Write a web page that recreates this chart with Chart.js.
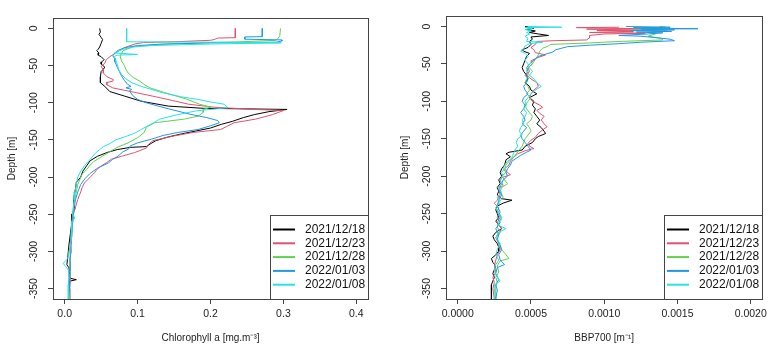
<!DOCTYPE html>
<html><head><meta charset="utf-8">
<script src="https://cdn.jsdelivr.net/npm/chart.js@4/dist/chart.umd.min.js"></script>
<style>
html,body{margin:0;padding:0;background:#fff;width:771px;height:347px;overflow:hidden}
#c1{position:absolute;left:0;top:0;width:393px;height:347px}
#c2{position:absolute;left:393px;top:0;width:378px;height:347px}
</style></head><body>
<canvas id="c1" width="393" height="347"></canvas>
<canvas id="c2" width="378" height="347"></canvas>
<script>
// ---------- categories ----------
const dates = ["2021/12/18", "2021/12/23", "2021/12/28", "2022/01/03", "2022/01/08"];
const palette = ["#000000", "#DF536B", "#61D04F", "#2297E6", "#28E2E5"];

// ---------- tick values / labels ----------
const depthTicks = [0, -50, -100, -150, -200, -250, -300, -350];
const depthTickLabels = ["0", "-50", "-100", "-150", "-200", "-250", "-300", "-350"];
const chlTicks = [0, 0.1, 0.2, 0.3, 0.4];
const chlTickLabels = ["0.0", "0.1", "0.2", "0.3", "0.4"];
const bbpTicks = [0, 0.0005, 0.001, 0.0015, 0.002];
const bbpTickLabels = ["0.0000", "0.0005", "0.0010", "0.0015", "0.0020"];

// ---------- Chlorophyll a profiles: [depth m, value mg.m-3] ----------
const chl1218 = [[0,0.048],[-5,0.049],[-8,0.047],[-12,0.050],[-15,0.052],[-20,0.050],[-25,0.048],[-28,0.046],[-30,0.044],[-33,0.047],[-36,0.046],[-38,0.050],[-42,0.054],[-45,0.051],[-48,0.050],[-52,0.055],[-55,0.053],[-58,0.050],[-65,0.049],[-73,0.049],[-78,0.055],[-85,0.062],[-91,0.082],[-98,0.105],[-104.5,0.142],[-107.5,0.190],[-109,0.305],[-112,0.280],[-116,0.260],[-120,0.245],[-125,0.230],[-129,0.215],[-134,0.200],[-138,0.180],[-142,0.160],[-146,0.142],[-151,0.125],[-155,0.118],[-159,0.112],[-160,0.090],[-163,0.072],[-167,0.058],[-172,0.045],[-178,0.035],[-185,0.030],[-192,0.025],[-200,0.022],[-207,0.016],[-215,0.015],[-225,0.013],[-235,0.012],[-242,0.014],[-250,0.010],[-260,0.010],[-275,0.008],[-290,0.006],[-300,0.005],[-310,0.004],[-318,0.003],[-322,0.006],[-330,0.007],[-336,0.007],[-338,0.016],[-340,0.007],[-350,0.006],[-364,0.006]];
const chl1223 = [[0,0.234],[-12.5,0.234],[-13,0.210],[-15,0.205],[-16,0.200],[-18,0.150],[-19,0.108],[-21,0.096],[-26,0.082],[-30,0.075],[-33,0.070],[-38,0.062],[-42,0.057],[-47,0.055],[-51,0.050],[-56,0.053],[-60,0.053],[-65,0.058],[-69,0.067],[-71,0.066],[-73,0.057],[-76,0.058],[-80,0.066],[-86,0.096],[-92,0.125],[-97,0.148],[-102,0.170],[-106,0.205],[-109,0.260],[-110.5,0.300],[-116,0.285],[-122,0.262],[-127,0.232],[-132,0.222],[-136,0.214],[-140,0.176],[-145,0.148],[-151,0.121],[-156,0.115],[-161,0.112],[-167,0.096],[-172,0.078],[-176,0.064],[-181,0.057],[-185,0.050],[-190,0.044],[-194,0.041],[-199,0.036],[-203,0.032],[-208,0.027],[-214,0.024],[-220,0.022],[-230,0.018],[-240,0.015],[-250,0.012],[-260,0.011],[-275,0.010],[-290,0.009],[-305,0.008],[-320,0.007],[-335,0.008],[-350,0.007],[-364,0.007]];
const chl1228 = [[0,0.296],[-10,0.295],[-14,0.292],[-16,0.290],[-18,0.240],[-19.5,0.180],[-21.5,0.126],[-24.5,0.094],[-30,0.080],[-37,0.076],[-44,0.078],[-50,0.082],[-55,0.084],[-60,0.087],[-66,0.094],[-71,0.103],[-76,0.110],[-80,0.117],[-87,0.139],[-95,0.167],[-102,0.185],[-106,0.200],[-109,0.190],[-113,0.190],[-118,0.183],[-122,0.164],[-127,0.123],[-133,0.112],[-140,0.109],[-147,0.100],[-154,0.087],[-160,0.072],[-167,0.060],[-173,0.050],[-179,0.040],[-185,0.034],[-190,0.030],[-196,0.024],[-203,0.021],[-210,0.018],[-220,0.016],[-230,0.014],[-240,0.012],[-250,0.011],[-260,0.010],[-270,0.010],[-280,0.009],[-290,0.008],[-300,0.007],[-310,0.008],[-320,0.007],[-330,0.008],[-340,0.006],[-350,0.007],[-364,0.006]];
const chl0103 = [[0,0.271],[-11,0.271],[-11.5,0.247],[-14.5,0.247],[-15.5,0.298],[-17,0.298],[-18.5,0.290],[-19.5,0.200],[-21,0.140],[-23,0.100],[-26,0.082],[-30,0.072],[-34,0.068],[-37,0.066],[-40,0.068],[-45,0.069],[-52,0.072],[-58,0.075],[-64,0.078],[-70,0.082],[-75,0.086],[-78,0.091],[-80,0.084],[-82,0.092],[-84,0.089],[-90,0.093],[-95.6,0.100],[-100,0.112],[-104.5,0.128],[-110,0.150],[-115.7,0.173],[-120,0.195],[-124,0.210],[-127,0.212],[-131,0.200],[-136,0.183],[-140,0.155],[-144,0.135],[-149,0.119],[-154,0.100],[-158,0.090],[-162,0.088],[-166,0.080],[-172,0.073],[-176,0.066],[-181,0.060],[-188,0.045],[-195,0.035],[-202,0.028],[-210,0.022],[-220,0.018],[-230,0.015],[-240,0.013],[-250,0.012],[-260,0.011],[-270,0.010],[-280,0.009],[-290,0.008],[-300,0.009],[-310,0.007],[-320,0.008],[-330,0.006],[-340,0.007],[-350,0.006],[-364,0.005]];
const chl0108 = [[0,0.085],[-18,0.085],[-18.5,0.200],[-19.5,0.297],[-21,0.200],[-23,0.120],[-25,0.095],[-28,0.080],[-31,0.072],[-33,0.068],[-35,0.100],[-36,0.072],[-38,0.068],[-42,0.070],[-48,0.072],[-55,0.074],[-62,0.078],[-68,0.084],[-73,0.092],[-78,0.105],[-82,0.119],[-86,0.132],[-89,0.146],[-92,0.160],[-95.6,0.183],[-99,0.200],[-102,0.219],[-105,0.222],[-106.7,0.224],[-108,0.210],[-111,0.180],[-116,0.155],[-122,0.130],[-127,0.122],[-132,0.112],[-136,0.105],[-141,0.096],[-145,0.085],[-150,0.070],[-155,0.062],[-159,0.053],[-163,0.048],[-168,0.042],[-176,0.035],[-185,0.027],[-192,0.022],[-200,0.018],[-210,0.016],[-220,0.014],[-230,0.013],[-240,0.012],[-250,0.011],[-255,0.014],[-260,0.010],[-270,0.010],[-280,0.009],[-290,0.008],[-300,0.006],[-310,0.004],[-316,-0.002],[-320,0.001],[-325,0.005],[-335,0.006],[-345,0.005],[-355,0.005],[-364,0.005]];

// ---------- BBP700 profiles: [depth m, value m-1] ----------
const bbp1218 = [[0,4.6e-4],[-2,5.2e-4],[-4,4.7e-4],[-6,5.3e-4],[-8,4.9e-4],[-10,5.5e-4],[-12,6.2e-4],[-14,5.0e-4],[-17,5.1e-4],[-20,4.9e-4],[-24,5.0e-4],[-28,4.8e-4],[-31,4.4e-4],[-33,4.5e-4],[-36,4.9e-4],[-40,4.7e-4],[-45,4.6e-4],[-50,4.5e-4],[-55,4.4e-4],[-60,4.5e-4],[-65,4.7e-4],[-70,4.8e-4],[-75,4.6e-4],[-80,4.9e-4],[-85,5.0e-4],[-90,5.4e-4],[-95,4.9e-4],[-100,5.2e-4],[-105,5.1e-4],[-110,5.3e-4],[-115,5.2e-4],[-120,5.4e-4],[-125,5.6e-4],[-130,5.4e-4],[-135,5.7e-4],[-140,5.9e-4],[-143,6.0e-4],[-147,5.5e-4],[-150,5.3e-4],[-155,5.1e-4],[-160,4.6e-4],[-165,4.4e-4],[-168,3.5e-4],[-170,3.3e-4],[-174,3.6e-4],[-178,3.3e-4],[-185,3.2e-4],[-190,3.0e-4],[-195,2.9e-4],[-200,3.0e-4],[-205,2.8e-4],[-210,2.9e-4],[-215,2.7e-4],[-220,2.8e-4],[-225,2.7e-4],[-230,3.0e-4],[-232,3.7e-4],[-236,3.1e-4],[-240,2.7e-4],[-245,2.6e-4],[-250,2.7e-4],[-255,2.8e-4],[-260,2.6e-4],[-265,2.8e-4],[-270,3.0e-4],[-275,2.6e-4],[-280,2.4e-4],[-285,2.5e-4],[-290,2.7e-4],[-295,2.8e-4],[-300,2.8e-4],[-305,2.6e-4],[-310,2.3e-4],[-315,2.4e-4],[-320,2.6e-4],[-325,2.5e-4],[-330,2.4e-4],[-335,2.5e-4],[-340,2.4e-4],[-345,2.3e-4],[-350,2.3e-4],[-364,2.3e-4]];
const bbp1223 = [[-1,11.0e-4],[-1.5,8.1e-4],[-3,12.5e-4],[-3.5,8.8e-4],[-5,13.0e-4],[-5.5,9.5e-4],[-7,12.0e-4],[-8,9.0e-4],[-9,12.8e-4],[-10,10.0e-4],[-12,9.0e-4],[-15,9.0e-4],[-18,8.8e-4],[-19,6.5e-4],[-20,5.4e-4],[-24,5.3e-4],[-28,5.0e-4],[-31,5.2e-4],[-35,5.3e-4],[-38,6.0e-4],[-42,5.4e-4],[-46,5.0e-4],[-50,5.1e-4],[-55,4.8e-4],[-60,4.9e-4],[-65,4.7e-4],[-70,5.0e-4],[-75,5.4e-4],[-80,5.5e-4],[-85,5.2e-4],[-90,5.0e-4],[-95,4.9e-4],[-100,5.1e-4],[-105,5.6e-4],[-108,5.8e-4],[-112,5.4e-4],[-116,5.6e-4],[-120,5.9e-4],[-125,5.7e-4],[-130,5.9e-4],[-134,6.1e-4],[-138,5.8e-4],[-143,5.5e-4],[-148,5.3e-4],[-152,5.0e-4],[-156,4.8e-4],[-160,4.9e-4],[-163,5.2e-4],[-166,4.6e-4],[-170,4.1e-4],[-175,3.8e-4],[-180,3.6e-4],[-185,3.5e-4],[-190,3.2e-4],[-195,3.4e-4],[-198,3.6e-4],[-202,3.0e-4],[-206,2.9e-4],[-212,3.1e-4],[-218,2.8e-4],[-225,2.9e-4],[-232,2.7e-4],[-236,2.5e-4],[-242,2.8e-4],[-248,2.7e-4],[-255,2.9e-4],[-262,2.7e-4],[-270,3.0e-4],[-276,2.8e-4],[-282,2.6e-4],[-290,2.8e-4],[-298,2.9e-4],[-305,2.7e-4],[-312,2.6e-4],[-320,2.5e-4],[-328,2.6e-4],[-335,2.4e-4],[-342,2.5e-4],[-350,2.4e-4],[-364,2.5e-4]];
const bbp1228 = [[0,13.8e-4],[-1,14.2e-4],[-2,12.0e-4],[-3,14.0e-4],[-5,12.5e-4],[-6,14.3e-4],[-8,13.0e-4],[-10,13.5e-4],[-13,13.0e-4],[-16,13.9e-4],[-18,14.0e-4],[-20,11.0e-4],[-22,9.0e-4],[-24,6.3e-4],[-26,6.2e-4],[-29,5.8e-4],[-33,5.6e-4],[-38,5.5e-4],[-44,5.3e-4],[-50,5.1e-4],[-55,4.8e-4],[-60,4.7e-4],[-65,4.9e-4],[-70,4.7e-4],[-75,4.6e-4],[-80,4.8e-4],[-85,4.9e-4],[-90,4.7e-4],[-95,5.0e-4],[-100,4.8e-4],[-105,4.6e-4],[-110,4.7e-4],[-115,4.9e-4],[-120,5.1e-4],[-125,5.0e-4],[-130,4.7e-4],[-135,4.9e-4],[-140,5.0e-4],[-145,4.8e-4],[-150,4.6e-4],[-155,4.5e-4],[-160,4.4e-4],[-165,4.2e-4],[-170,4.0e-4],[-175,3.8e-4],[-180,3.4e-4],[-185,3.2e-4],[-190,3.1e-4],[-195,3.3e-4],[-200,3.0e-4],[-205,3.2e-4],[-210,3.4e-4],[-215,3.0e-4],[-220,2.9e-4],[-228,3.1e-4],[-235,2.8e-4],[-242,2.6e-4],[-248,2.8e-4],[-255,3.0e-4],[-262,2.8e-4],[-268,2.7e-4],[-275,2.9e-4],[-282,2.7e-4],[-290,2.8e-4],[-298,3.0e-4],[-305,3.3e-4],[-310,3.5e-4],[-313,2.9e-4],[-320,2.7e-4],[-328,2.8e-4],[-335,2.6e-4],[-342,2.7e-4],[-350,2.5e-4],[-364,2.6e-4]];
const bbp0103 = [[0,11.5e-4],[-1,14.5e-4],[-2,12.0e-4],[-3,16.4e-4],[-3.5,12.5e-4],[-4.5,14.8e-4],[-5.5,11.8e-4],[-6.5,14.6e-4],[-7.5,12.2e-4],[-8.5,14.0e-4],[-10,13.0e-4],[-12,11.0e-4],[-13,12.5e-4],[-15,13.6e-4],[-17,14.5e-4],[-19,14.8e-4],[-21,12.5e-4],[-23,11.0e-4],[-25,9.0e-4],[-27,7.5e-4],[-29,7.1e-4],[-31,6.7e-4],[-34,6.5e-4],[-37,6.0e-4],[-40,5.5e-4],[-45,5.2e-4],[-50,4.9e-4],[-55,4.7e-4],[-60,4.8e-4],[-65,4.6e-4],[-70,4.8e-4],[-75,4.7e-4],[-80,4.5e-4],[-85,4.6e-4],[-90,4.8e-4],[-95,4.5e-4],[-100,4.4e-4],[-105,4.6e-4],[-110,4.5e-4],[-115,4.3e-4],[-120,4.5e-4],[-125,4.6e-4],[-130,4.4e-4],[-135,4.7e-4],[-140,4.5e-4],[-145,4.3e-4],[-150,4.4e-4],[-155,4.6e-4],[-160,4.8e-4],[-165,5.0e-4],[-168,4.7e-4],[-172,4.3e-4],[-176,4.0e-4],[-180,3.7e-4],[-185,3.6e-4],[-190,3.4e-4],[-195,3.3e-4],[-200,3.4e-4],[-205,3.1e-4],[-210,3.0e-4],[-218,2.8e-4],[-225,3.0e-4],[-232,2.8e-4],[-240,2.7e-4],[-248,2.9e-4],[-255,2.7e-4],[-262,2.9e-4],[-270,2.6e-4],[-278,2.8e-4],[-285,2.7e-4],[-292,2.9e-4],[-298,3.0e-4],[-305,2.8e-4],[-312,2.9e-4],[-318,3.2e-4],[-322,2.7e-4],[-330,2.6e-4],[-338,2.8e-4],[-345,2.6e-4],[-352,2.7e-4],[-364,2.6e-4]];
const bbp0108 = [[0,4.8e-4],[-1,7.1e-4],[-1.5,4.6e-4],[-3,5.1e-4],[-4,4.6e-4],[-6,5.0e-4],[-8,4.7e-4],[-10,4.9e-4],[-13,4.6e-4],[-16,4.8e-4],[-20,4.7e-4],[-21,5.8e-4],[-23,4.9e-4],[-26,4.6e-4],[-30,4.5e-4],[-33,4.3e-4],[-36,4.6e-4],[-40,4.8e-4],[-45,4.6e-4],[-50,4.8e-4],[-55,4.9e-4],[-60,5.1e-4],[-65,4.9e-4],[-70,5.2e-4],[-75,5.4e-4],[-80,5.7e-4],[-85,5.3e-4],[-90,5.0e-4],[-95,4.8e-4],[-100,4.6e-4],[-105,4.7e-4],[-110,4.5e-4],[-115,4.7e-4],[-120,4.6e-4],[-125,4.4e-4],[-130,4.5e-4],[-135,4.3e-4],[-140,4.2e-4],[-145,4.4e-4],[-150,4.1e-4],[-155,4.0e-4],[-160,4.1e-4],[-165,3.9e-4],[-170,3.8e-4],[-175,3.7e-4],[-180,3.5e-4],[-185,3.3e-4],[-190,3.2e-4],[-195,3.0e-4],[-200,3.1e-4],[-205,2.9e-4],[-210,3.0e-4],[-215,2.8e-4],[-222,3.0e-4],[-228,2.7e-4],[-235,2.9e-4],[-242,2.6e-4],[-250,2.8e-4],[-258,3.0e-4],[-265,2.7e-4],[-270,3.3e-4],[-275,2.8e-4],[-282,2.6e-4],[-290,2.9e-4],[-298,2.7e-4],[-305,2.6e-4],[-312,2.8e-4],[-318,2.6e-4],[-325,2.5e-4],[-332,2.6e-4],[-340,2.9e-4],[-345,2.5e-4],[-352,2.6e-4],[-364,2.5e-4]];

const chlSeries = [chl1218, chl1223, chl1228, chl0103, chl0108];
const bbpSeries = [bbp1218, bbp1223, bbp1228, bbp0103, bbp0108];

// ---------- drawing ----------
const FONT = '"Liberation Sans", Arial, Helvetica, sans-serif';

const framePlugin = {
  id: 'frame',
  afterDatasetsDraw(chart, args, opts) {
    const ctx = chart.ctx, a = chart.chartArea;
    ctx.save();
    ctx.strokeStyle = '#444';
    ctx.lineWidth = 1;
    const L = Math.round(a.left), T = Math.round(a.top), R = Math.round(a.right), B = Math.round(a.bottom);
    ctx.strokeRect(L + 0.5, T + 0.5, R - L, B - T);
    // legend box, bottom-right
    const lx = R - opts.w, ly = B - opts.h;
    ctx.fillStyle = '#fff';
    ctx.fillRect(lx + 0.5, ly + 0.5, opts.w, opts.h);
    ctx.strokeRect(lx + 0.5, ly + 0.5, opts.w, opts.h);
    ctx.font = '12px ' + FONT;
    ctx.textBaseline = 'middle';
    ctx.textAlign = 'left';
    chart.data.datasets.forEach((ds, i) => {
      const y = ly + 14.5 + i * 13.8;
      ctx.strokeStyle = ds.borderColor;
      ctx.lineWidth = 2;
      ctx.beginPath();
      ctx.moveTo(lx + 3, y);
      ctx.lineTo(lx + 25, y);
      ctx.stroke();
      ctx.fillStyle = '#111';
      ctx.fillText(ds.label, lx + 35, y);
    });
    ctx.restore();
  }
};

function makeChart(id, series, xMin, xMax, xTicks, xLabels, xTitle, pad) {
  return new Chart(document.getElementById(id), {
    type: 'scatter',
    data: {
      datasets: series.map((s, i) => ({
        label: dates[i],
        data: s.map(p => ({ x: p[1], y: p[0] })),
        borderColor: palette[i],
        backgroundColor: palette[i],
        borderWidth: 1,
        showLine: true,
        pointRadius: 0,
        tension: 0,
        order: series.length - 1 - i
      }))
    },
    options: {
      responsive: false,
      animation: false,
      events: [],
      layout: { padding: pad },
      plugins: { legend: { display: false }, tooltip: { enabled: false }, frame: { w: 98, h: 84 } },
      scales: {
        x: {
          type: 'linear', position: 'bottom', min: xMin, max: xMax,
          afterBuildTicks: s => { s.ticks = xTicks.map(v => ({ value: v })); },
          afterFit: s => { s.height = 48; },
          ticks: { autoSkip: false, minRotation: 0, maxRotation: 0, padding: 4, color: '#222',
                   font: { family: FONT, size: 10.5 }, callback: (v, i) => xLabels[i] },
          grid: { drawOnChartArea: false, drawTicks: true, tickLength: 5, tickColor: '#444' },
          border: { display: false },
          title: { display: true, text: xTitle, color: '#222', font: { family: FONT, size: 10 }, padding: { top: 0, bottom: 3 } }
        },
        y: {
          type: 'linear', position: 'left', min: -364, max: 14,
          afterBuildTicks: s => { s.ticks = depthTicks.map(v => ({ value: v })); },
          afterFit: s => { s.width = 53; },
          ticks: { autoSkip: false, minRotation: 90, maxRotation: 90, crossAlign: 'center', padding: 3, color: '#222',
                   font: { family: FONT, size: 10.5 }, callback: (v, i) => depthTickLabels[i] },
          grid: { drawOnChartArea: false, drawTicks: true, tickLength: 5, tickColor: '#444' },
          border: { display: false },
          title: { display: true, text: 'Depth [m]', color: '#222', font: { family: FONT, size: 10 }, padding: { top: 6.5, bottom: 0 } }
        }
      }
    },
    plugins: [framePlugin]
  });
}

makeChart('c1', chlSeries, -0.016, 0.416, chlTicks, chlTickLabels, 'Chlorophyll a [mg.m\u207B\u00B3]',
          { left: 0, top: 18, right: 25, bottom: 0 });
makeChart('c2', bbpSeries, -0.00008, 0.00208, bbpTicks, bbpTickLabels, 'BBP700 [m\u207B\u00B9]',
          { left: 0, top: 16, right: 7, bottom: 0 });
</script>
</body></html>
